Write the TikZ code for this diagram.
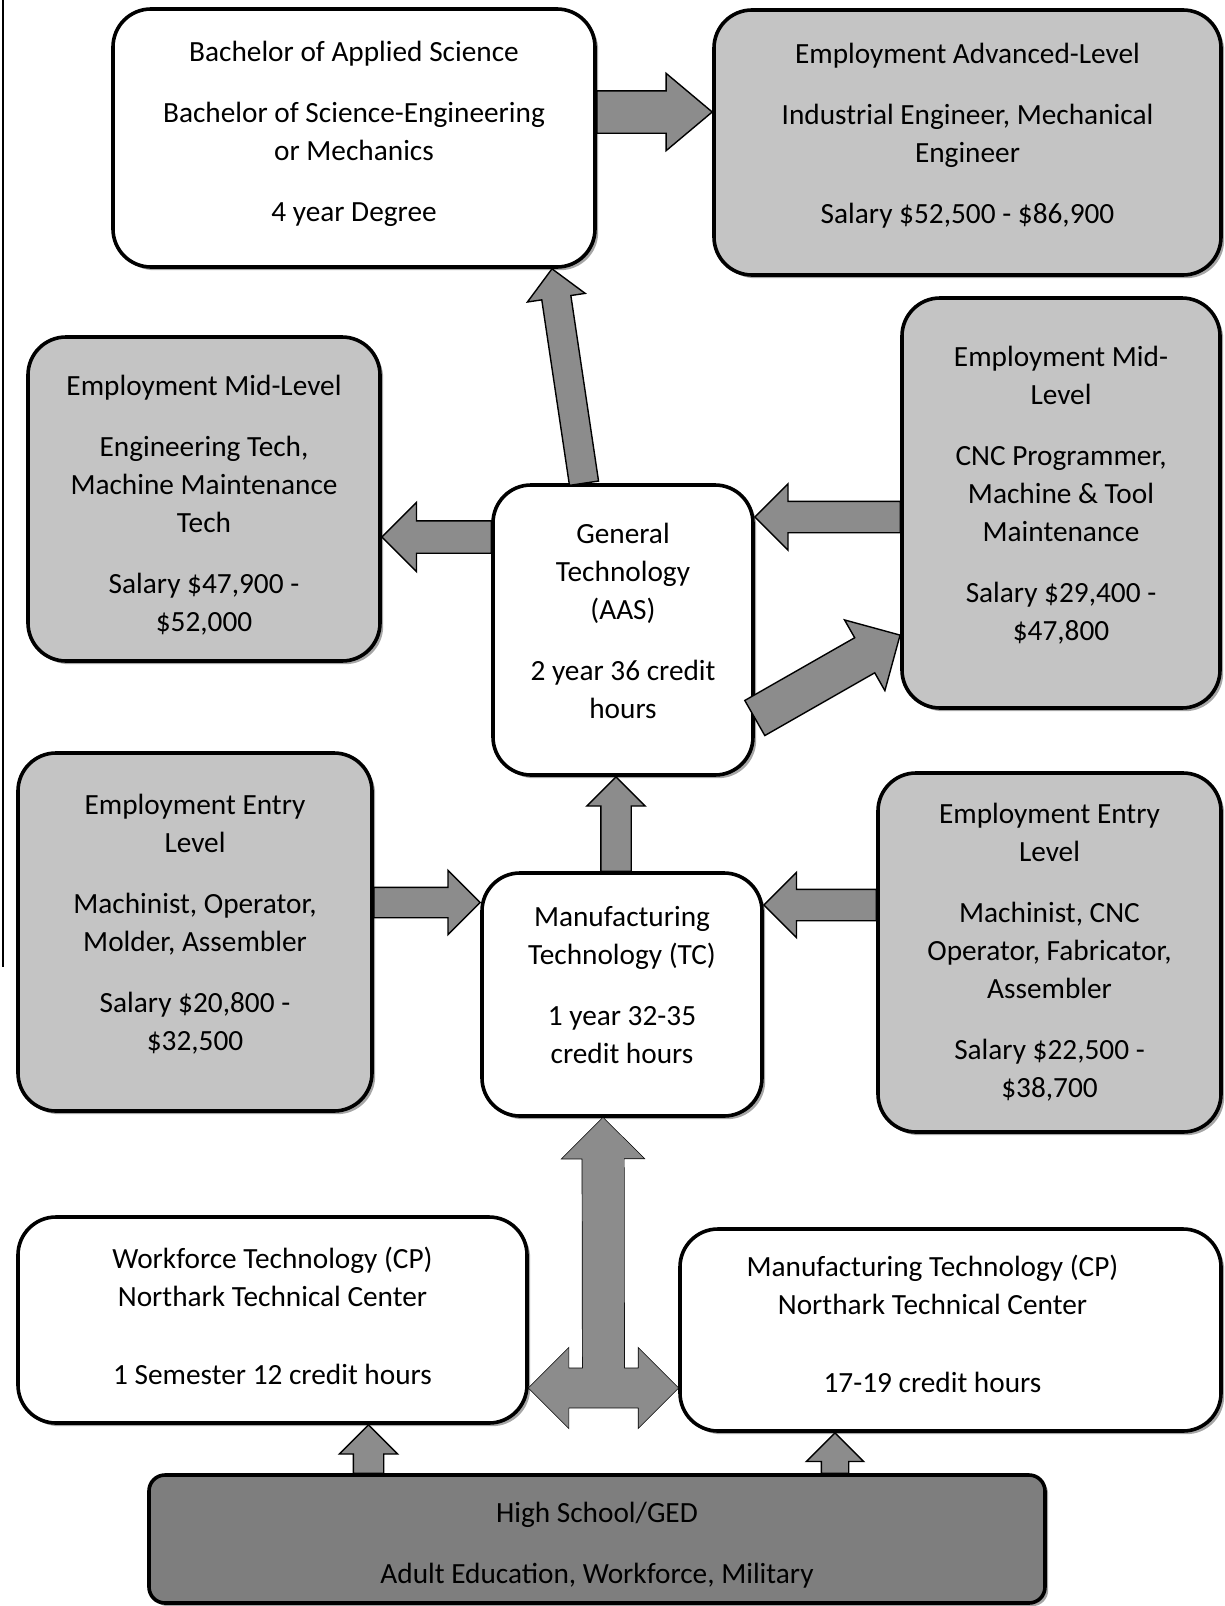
\documentclass[tikz,border=0pt]{standalone}
\usepackage{fontspec}
\setmainfont{Carlito}
\usetikzlibrary{positioning,calc,shapes.arrows,shadows}
\definecolor{jobgray}{HTML}{C4C4C4}
\definecolor{arrowgray}{HTML}{8C8C8C}
\definecolor{basegray}{HTML}{7E7E7E}

% fat gray arrow from one point to another
\newcommand{\blockarrow}[3][]{%
  \path let \p1=#2, \p2=#3,
    \n1={atan2(\y2-\y1,\x2-\x1)}, \n2={veclen(\x2-\x1,\y2-\y1)} in
    node[fat arrow, #1, rotate=\n1, minimum height=\n2, anchor=tail] at (\p1) {};}
% nudge box text up (extra depth on last line) or down (extra height on first line)
\newcommand{\lift}[1]{\raisebox{-#1}{\vphantom{g}}}
\newcommand{\drop}[1]{\raisebox{#1}{\vphantom{l}}}
\newcommand{\padr}{\rule{18pt}{0pt}}

\begin{document}
\begin{tikzpicture}[
    x=0.5pt, y=-0.5pt,
    box/.style={
        draw=black,
        line width=1.8pt,
        rounded corners=19pt,
        align=center,
        inner sep=0pt,
        font=\fontsize{14.65}{19}\selectfont,
        drop shadow={shadow xshift=1.6pt, shadow yshift=-1.6pt, fill=black, opacity=.35},
    },
    pathbox/.style={box, fill=white},
    jobbox/.style={box, fill=jobgray},
    basebox/.style={box, fill=basegray, rounded corners=8pt},
    fat arrow/.style={
        single arrow,
        draw=black,
        line width=.7pt,
        fill=arrowgray,
        inner xsep=0pt,
        outer sep=0pt,
        single arrow tip angle=90,
    },
    fork arrow/.style={
        double arrow,
        draw=black,
        line width=.7pt,
        fill=arrowgray,
        inner xsep=0pt,
        inner ysep=9.5pt,
        outer sep=0pt,
        double arrow head extend=10pt,
        double arrow tip angle=90,
    },
    gauge/.style 2 args={inner ysep=#1, single arrow head extend=#2},
]
\useasboundingbox (0,0) rectangle (1225,1606);

\draw[line width=1pt] (3,0) -- (3,967);

% programs and jobs
\node[pathbox, minimum width=241pt, minimum height=129pt] (bach) at (354,138)
    {Bachelor of Applied Science\\[11.5pt]Bachelor of Science-Engineering\\or Mechanics\\[11.5pt]4 year Degree\lift{4.5pt}};
\node[jobbox, minimum width=253.5pt, minimum height=132.5pt] (adv) at (967.5,142.5)
    {Employment Advanced-Level\\[11.5pt]Industrial Engineer, Mechanical\\Engineer\\[11.5pt]Salary \$52,500 - \$86,900\lift{7pt}};
\node[jobbox, minimum width=176pt, minimum height=162pt] (midl) at (204,499)
    {\drop{6pt}Employment Mid-Level\\[11.5pt]Engineering Tech,\\Machine Maintenance\\Tech\\[11.5pt]Salary \$47,900 -\\ \$52,000};
\node[pathbox, minimum width=130pt, minimum height=145pt] (gen) at (623,630)
    {General\\Technology\\(AAS)\\[11.5pt]2 year 36 credit\\hours\lift{6.5pt}};
\node[jobbox, minimum width=159pt, minimum height=205pt] (midr) at (1061,503)
    {Employment Mid-\\Level\\[11.5pt]CNC Programmer,\\Machine \& Tool\\Maintenance\\[11.5pt]Salary \$29,400 -\\ \$47,800\lift{7pt}};
\node[jobbox, minimum width=177pt, minimum height=179pt] (entl) at (195,932)
    {Employment Entry\\Level\\[11.5pt]Machinist, Operator,\\Molder, Assembler\\[11.5pt]Salary \$20,800 -\\ \$32,500\lift{7pt}};
\node[pathbox, minimum width=140pt, minimum height=121.5pt] (mfg) at (622,994.5)
    {Manufacturing\\Technology (TC)\\[11.5pt]1 year 32-35\\credit hours\lift{7.5pt}};
\node[jobbox, minimum width=171.5pt, minimum height=179.5pt] (entr) at (1049.5,952.5)
    {Employment Entry\\Level\\[11.5pt]Machinist, CNC\\Operator, Fabricator,\\Assembler\\[11.5pt]Salary \$22,500 -\\ \$38,700};
\node[pathbox, minimum width=254.5pt, minimum height=103pt] (wft) at (272.5,1320)
    {Workforce Technology (CP)\\Northark Technical Center\\[20pt]1 Semester 12 credit hours\lift{1.5pt}};
\node[pathbox, minimum width=270.5pt, minimum height=101pt] (mfcp) at (950.5,1330)
    {\drop{-2pt}Manufacturing Technology (CP)\padr\\Northark Technical Center\padr\\[20pt]17-19 credit hours\padr\lift{4pt}};
\node[basebox, minimum width=448pt, minimum height=64pt] (hs) at (597,1539)
    {\drop{6pt}High School/GED\\[11.5pt]Adult Education, Workforce, Military};

% arrows
\blockarrow[gauge={10.25pt}{8.75pt}, single arrow tip angle=80]{([yshift=13pt]bach.east)}{([yshift=15.25pt]adv.west)}
\blockarrow[gauge={7pt}{7.25pt}]{([xshift=-19.5pt]gen.north)}{([xshift=99pt]bach.south)}
\blockarrow[gauge={7.75pt}{9.25pt}]{([yshift=46.5pt]gen.west)}{([yshift=-19pt]midl.east)}
\blockarrow[gauge={7.5pt}{8.75pt}]{([yshift=-7pt]midr.west)}{([yshift=56.5pt]gen.east)}
\blockarrow[gauge={9.75pt}{10.25pt}]{([yshift=-44pt]gen.east)}{([yshift=-66pt]midr.west)}
\blockarrow[gauge={7.25pt}{7pt}]{([xshift=-3pt]mfg.north)}{([xshift=-3.5pt]gen.south)}
\blockarrow[gauge={7.25pt}{8.5pt}]{([yshift=14.75pt]entl.east)}{([yshift=46pt]mfg.west)}
\blockarrow[gauge={7.5pt}{8.5pt}]{([yshift=23.75pt]entr.west)}{([yshift=44.75pt]mfg.east)}
\blockarrow[gauge={7.25pt}{7pt}]{([xshift=-114.25pt]hs.north)}{([xshift=48pt]wft.south)}
\blockarrow[gauge={6.5pt}{7.5pt}]{([xshift=119pt]hs.north)}{([xshift=-57.75pt]mfcp.south)}

% fork under the TC box
\path let \p1=([yshift=-34pt]wft.east), \p2=([yshift=-29pt]mfcp.west),
    \n2={veclen(\x2-\x1,\y2-\y1)} in
    node[fork arrow, minimum height=\n2] (fork) at ($(\p1)!.5!(\p2)$) {};
\blockarrow[gauge={10pt}{10pt}]{(fork.center)}{([xshift=-9.5pt]mfg.south)}
\path let \p1=([yshift=-34pt]wft.east), \p2=([yshift=-29pt]mfcp.west),
    \n2={veclen(\x2-\x1,\y2-\y1)} in
    node[fork arrow, draw=none, minimum height=\n2] at ($(\p1)!.5!(\p2)$) {};
\blockarrow[gauge={10pt}{10pt}, draw=none]{(fork.center)}{([xshift=-9.5pt]mfg.south)}

\end{tikzpicture}
\end{document}
